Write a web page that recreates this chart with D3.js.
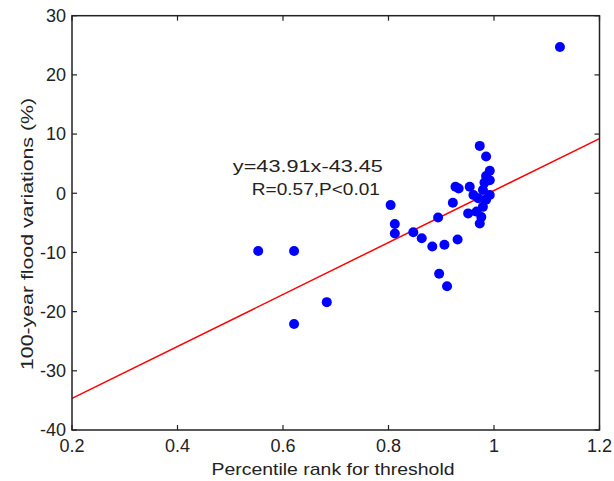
<!DOCTYPE html>
<html>
<head>
<meta charset="utf-8">
<script src="https://cdn.jsdelivr.net/npm/d3@7"></script>
<style>
  body { margin: 0; background: #fff; }
  text { font-family: "Liberation Sans", Arial, sans-serif; fill: #222; }
</style>
</head>
<body>
<div id="chart"></div>
<script>
// Data
const rankX = [1.125, 0.553, 0.621, 0.621, 0.683, 0.804, 0.812, 0.812, 0.847, 0.863,
               0.883, 0.906, 0.931, 0.896, 0.911, 0.894, 0.922, 0.927, 0.933, 0.954,
               0.961, 0.970, 0.951, 0.967, 0.976, 0.973, 0.979, 0.985, 0.992, 0.979,
               0.982, 0.992, 0.985, 0.992, 0.985, 0.973];
const floodY = [24.7, -9.75, -9.75, -22.1, -18.4, -2.0, -5.2, -6.8, -6.6, -7.6,
                -9.0, -8.7, -7.8, -13.6, -15.7, -4.1, -1.6, 1.1, 0.8, 1.1,
                -0.3, -0.85, -3.4, -3.1, -4.0, -5.1, -2.3, -1.1, -0.3, 0.55,
                1.8, 2.2, 2.9, 3.8, 6.2, 8.0];
const slope = 43.91, intercept = -43.45;
const xTicks = [0.2, 0.4, 0.6, 0.8, 1, 1.2];
const yTicks = [30, 20, 10, 0, -10, -20, -30, -40];
const eqText = "y=43.91x-43.45";
const statText = "R=0.57,P<0.01";

// Dimensions
const W = 614, H = 481;
const margin = { top: 15.7, right: 14.5, bottom: 51, left: 72 };
const width = W - margin.left - margin.right;
const height = H - margin.top - margin.bottom;

const svg = d3.select("#chart")
    .append("svg")
    .attr("width", W)
    .attr("height", H);

const g = svg.append("g")
    .attr("transform", `translate(${margin.left},${margin.top})`);

const x = d3.scaleLinear().domain([0.2, 1.2]).range([0, width]);
const y = d3.scaleLinear().domain([-40, 30]).range([height, 0]);

// Regression line
g.append("line")
    .attr("x1", x(0.2)).attr("y1", y(slope * 0.2 + intercept))
    .attr("x2", x(1.2)).attr("y2", y(slope * 1.2 + intercept))
    .attr("stroke", "#ff0000")
    .attr("stroke-width", 1.5);

// Points
g.selectAll(".pt")
    .data(rankX.map((d, i) => [d, floodY[i]]))
    .enter()
    .append("circle")
    .attr("class", "pt")
    .attr("cx", d => x(d[0]))
    .attr("cy", d => y(d[1]))
    .attr("r", 5)
    .attr("fill", "#0000ff");

// Box with inward ticks (MATLAB style)
g.append("rect")
    .attr("width", width)
    .attr("height", height)
    .attr("fill", "none")
    .attr("stroke", "#222")
    .attr("stroke-width", 1.5);

const tl = 5;
xTicks.forEach(t => {
    g.append("line").attr("x1", x(t)).attr("x2", x(t))
        .attr("y1", height).attr("y2", height - tl)
        .attr("stroke", "#222").attr("stroke-width", 1.2);
    g.append("line").attr("x1", x(t)).attr("x2", x(t))
        .attr("y1", 0).attr("y2", tl)
        .attr("stroke", "#222").attr("stroke-width", 1.2);
    g.append("text")
        .attr("x", x(t))
        .attr("y", height + 22)
        .attr("text-anchor", "middle")
        .style("font-size", "18px")
        .text(t);
});
yTicks.forEach(t => {
    g.append("line").attr("x1", 0).attr("x2", tl)
        .attr("y1", y(t)).attr("y2", y(t))
        .attr("stroke", "#222").attr("stroke-width", 1.2);
    g.append("line").attr("x1", width).attr("x2", width - tl)
        .attr("y1", y(t)).attr("y2", y(t))
        .attr("stroke", "#222").attr("stroke-width", 1.2);
    g.append("text")
        .attr("x", -6)
        .attr("y", y(t))
        .attr("dy", "0.35em")
        .attr("text-anchor", "end")
        .style("font-size", "18px")
        .text(t);
});

// Annotations
g.append("text")
    .attr("x", x(0.505))
    .attr("y", y(3.6))
    .attr("textLength", 150)
    .attr("lengthAdjust", "spacingAndGlyphs")
    .style("font-size", "17px")
    .text(eqText);

g.append("text")
    .attr("x", x(0.541))
    .attr("y", y(-0.3))
    .attr("textLength", 128)
    .attr("lengthAdjust", "spacingAndGlyphs")
    .style("font-size", "17px")
    .text(statText);

// Axis labels
svg.append("text")
    .attr("x", 333)
    .attr("y", 475)
    .attr("text-anchor", "middle")
    .attr("textLength", 243)
    .attr("lengthAdjust", "spacingAndGlyphs")
    .style("font-size", "17px")
    .text("Percentile rank for threshold");

svg.append("text")
    .attr("transform", "translate(33,234) rotate(-90)")
    .attr("text-anchor", "middle")
    .attr("textLength", 272)
    .attr("lengthAdjust", "spacingAndGlyphs")
    .style("font-size", "17px")
    .text("100-year flood variations (%)");
</script>
</body>
</html>
